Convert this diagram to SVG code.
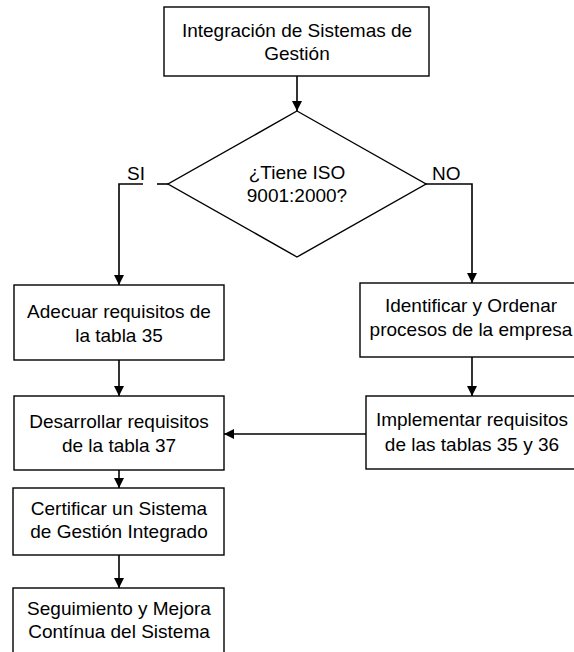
<svg xmlns="http://www.w3.org/2000/svg" width="574" height="652" viewBox="0 0 574 652">
<style>
.box{fill:#fff;stroke:#000;stroke-width:1.4}
.t{font-family:"Liberation Sans",Arial,sans-serif;font-size:19px;fill:#000;text-anchor:middle}
.l{font-family:"Liberation Sans",Arial,sans-serif;font-size:19px;fill:#000}
.c{fill:none;stroke:#000;stroke-width:1.6}
</style>
<defs>
<marker id="ah" markerWidth="10" markerHeight="10" refX="10" refY="5" orient="auto" markerUnits="userSpaceOnUse">
<path d="M0,0 L10,5 L0,10 Z" fill="#000"/>
</marker>
</defs>
<rect width="574" height="652" fill="#fff"/>
<g id="connectors">
<path class="c" d="M297,76 V111" marker-end="url(#ah)"/>
<path class="c" d="M168,184 H157"/>
<path class="c" d="M143,184 H119 V285" marker-end="url(#ah)"/>
<path class="c" d="M426,184 H472 V283" marker-end="url(#ah)"/>
<path class="c" d="M119,360 V396" marker-end="url(#ah)"/>
<path class="c" d="M472,357 V396" marker-end="url(#ah)"/>
<path class="c" d="M366,434 H224" marker-end="url(#ah)"/>
<path class="c" d="M119,470 V488" marker-end="url(#ah)"/>
<path class="c" d="M119,555 V588" marker-end="url(#ah)"/>
</g>
<g id="start">
<rect class="box" x="164" y="7" width="265" height="69"/>
<text class="t" x="297" y="37">Integración de Sistemas de</text>
<text class="t" x="297" y="60">Gestión</text>
</g>
<g id="decision">
<polygon class="box" points="297,111 426,184 297,257 168,184"/>
<text class="t" x="297" y="179">¿Tiene ISO</text>
<text class="t" x="297" y="202">9001:2000?</text>
</g>
<g id="label-si"><text class="l" x="127" y="180">SI</text></g>
<g id="label-no"><text class="l" x="432" y="180">NO</text></g>
<g id="adecuar">
<rect class="box" x="14" y="285" width="210" height="75"/>
<text class="t" x="119" y="318">Adecuar requisitos de</text>
<text class="t" x="119" y="342">la tabla 35</text>
</g>
<g id="identificar">
<rect class="box" x="360" y="283" width="224" height="74"/>
<text class="t" x="471" y="312">Identificar y Ordenar</text>
<text class="t" x="471" y="336">procesos de la empresa</text>
</g>
<g id="desarrollar">
<rect class="box" x="14" y="396" width="210" height="74"/>
<text class="t" x="119" y="428">Desarrollar requisitos</text>
<text class="t" x="119" y="452">de la tabla 37</text>
</g>
<g id="implementar">
<rect class="box" x="366" y="396" width="214" height="73"/>
<text class="t" x="472" y="426">Implementar requisitos</text>
<text class="t" x="472" y="451">de las tablas 35 y 36</text>
</g>
<g id="certificar">
<rect class="box" x="13" y="488" width="211" height="67"/>
<text class="t" x="119" y="515">Certificar un Sistema</text>
<text class="t" x="119" y="538">de Gestión Integrado</text>
</g>
<g id="seguimiento">
<rect class="box" x="13" y="588" width="211" height="80"/>
<text class="t" x="119" y="615">Seguimiento y Mejora</text>
<text class="t" x="119" y="638">Contínua del Sistema</text>
</g>
</svg>
